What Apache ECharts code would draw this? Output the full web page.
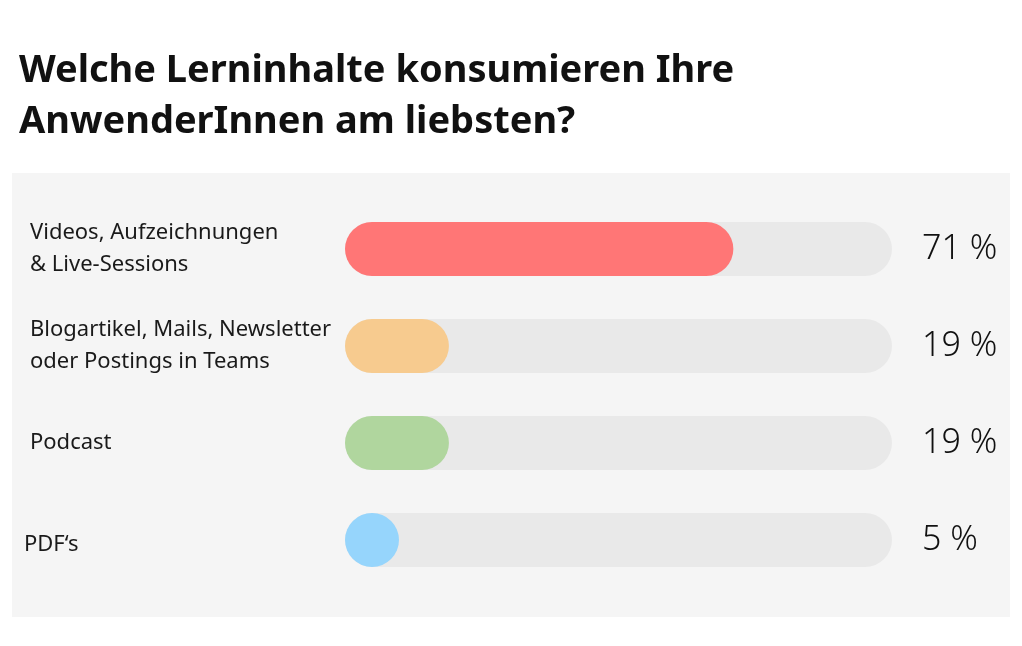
<!DOCTYPE html>
<html><head><meta charset="utf-8">
<script src="https://cdn.jsdelivr.net/npm/echarts@6/dist/echarts.min.js"></script>
<style>html,body{margin:0;padding:0;background:#fff}#c{width:1022px;height:646px}</style>
</head><body><div id="c"></div>
<script>
const categories = ['Videos, Aufzeichnungen\n& Live-Sessions', 'Blogartikel, Mails, Newsletter\noder Postings in Teams', 'Podcast', 'PDF‘s'];
const values = [71, 19, 19, 5];
const valueLabels = ['71 %', '19 %', '19 %', '5 %'];
const colors = ['#ff7676', '#f7cb8f', '#b0d69e', '#96d5fc'];

const chart = echarts.init(document.getElementById('c'));
chart.setOption({
  backgroundColor: '#ffffff',
  animation: false,
  title: {
    text: 'Welche Lerninhalte konsumieren Ihre\nAnwenderInnen am liebsten?',
    left: 14, top: 41,
    textStyle: { fontFamily: 'Noto Sans', fontWeight: 'bold', fontSize: 38, lineHeight: 51, color: '#111' }
  },
  graphic: [{
    type: 'rect', z: -10, silent: true,
    shape: { x: 12, y: 173, width: 998, height: 444 },
    style: { fill: '#f5f5f5' }
  }],
  grid: { left: 345, right: 130, top: 200.5, bottom: 57.5 },
  xAxis: { type: 'value', min: 0, max: 100, show: false },
  yAxis: [{
    type: 'category', inverse: true, data: categories,
    axisLine: { show: false }, axisTick: { show: false }, splitLine: { show: false },
    axisLabel: {
      align: 'left', margin: 321, fontFamily: 'Noto Sans', fontSize: 22, lineHeight: 32, color: '#1a1a1a',
      formatter: (v, i) => v.split('\n').map(l => (i === categories.length - 1 ? '{p|' : '{n|') + l + '}').join('\n'),
      rich: {
        n: { fontFamily: 'Noto Sans', fontSize: 22, lineHeight: 32, color: '#1a1a1a', padding: [0, 0, 0, 6] },
        p: { fontFamily: 'Noto Sans', fontSize: 22, lineHeight: 32, color: '#1a1a1a', padding: [10, 0, 0, 0] }
      }
    }
  }, {
    type: 'category', inverse: true, position: 'right', data: valueLabels,
    axisLine: { show: false }, axisTick: { show: false }, splitLine: { show: false },
    axisLabel: { align: 'left', margin: 30, fontFamily: 'Noto Sans', fontWeight: 300, fontSize: 34, color: '#111' }
  }],
  series: [{
    type: 'bar', yAxisIndex: 0,
    data: values.map((v, i) => ({ value: v, itemStyle: { color: colors[i] } })),
    barWidth: 54,
    barMinHeight: 54,
    itemStyle: { borderRadius: 27 },
    showBackground: true,
    backgroundStyle: { color: '#e9e9e9', borderRadius: 27 }
  }]
});
</script></body></html>
